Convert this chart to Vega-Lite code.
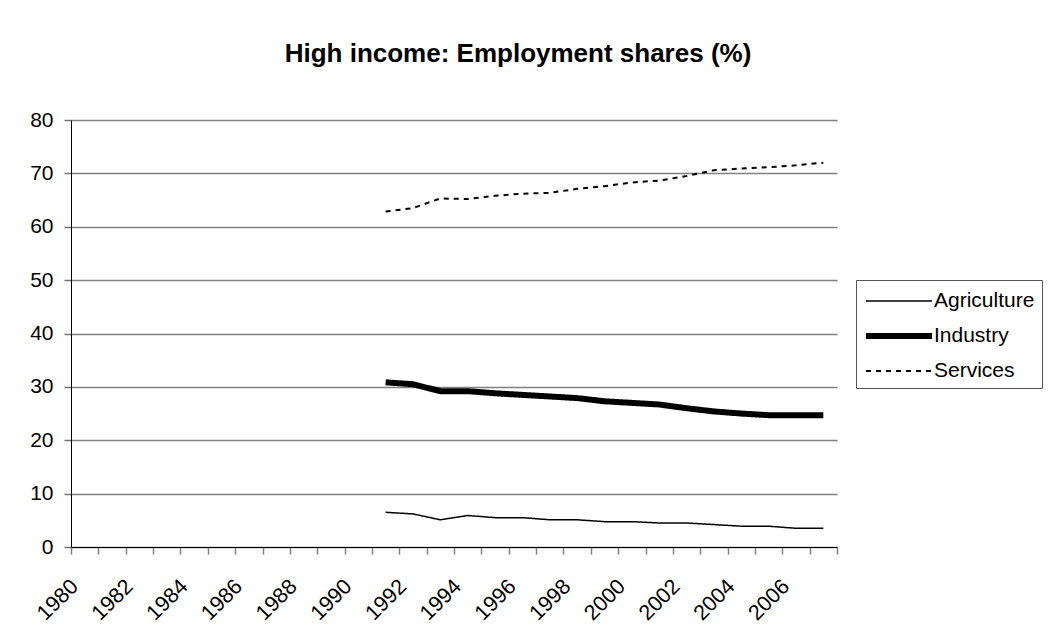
{
  "$schema": "https://vega.github.io/schema/vega-lite/v6.json",
  "width": 766,
  "height": 427,
  "autosize": "none",
  "padding": {"left": 71, "top": 120, "right": 212, "bottom": 93},
  "background": "white",
  "title": {
    "text": "High income: Employment shares (%)",
    "font": "Liberation Sans",
    "fontSize": 26,
    "fontWeight": "bold",
    "color": "black",
    "anchor": "middle",
    "frame": "group",
    "dx": 64,
    "offset": 42
  },
  "data": {
    "values": [
      {"year": 1991, "sector": "Agriculture", "share": 6.5},
      {"year": 1992, "sector": "Agriculture", "share": 6.2},
      {"year": 1993, "sector": "Agriculture", "share": 5.1},
      {"year": 1994, "sector": "Agriculture", "share": 5.9},
      {"year": 1995, "sector": "Agriculture", "share": 5.5},
      {"year": 1996, "sector": "Agriculture", "share": 5.5},
      {"year": 1997, "sector": "Agriculture", "share": 5.1},
      {"year": 1998, "sector": "Agriculture", "share": 5.1},
      {"year": 1999, "sector": "Agriculture", "share": 4.75},
      {"year": 2000, "sector": "Agriculture", "share": 4.75},
      {"year": 2001, "sector": "Agriculture", "share": 4.5},
      {"year": 2002, "sector": "Agriculture", "share": 4.5},
      {"year": 2003, "sector": "Agriculture", "share": 4.2},
      {"year": 2004, "sector": "Agriculture", "share": 3.9},
      {"year": 2005, "sector": "Agriculture", "share": 3.9},
      {"year": 2006, "sector": "Agriculture", "share": 3.5},
      {"year": 2007, "sector": "Agriculture", "share": 3.5},
      {"year": 1991, "sector": "Industry", "share": 30.85},
      {"year": 1992, "sector": "Industry", "share": 30.5},
      {"year": 1993, "sector": "Industry", "share": 29.2},
      {"year": 1994, "sector": "Industry", "share": 29.2},
      {"year": 1995, "sector": "Industry", "share": 28.8},
      {"year": 1996, "sector": "Industry", "share": 28.5},
      {"year": 1997, "sector": "Industry", "share": 28.2},
      {"year": 1998, "sector": "Industry", "share": 27.9},
      {"year": 1999, "sector": "Industry", "share": 27.3},
      {"year": 2000, "sector": "Industry", "share": 27.0},
      {"year": 2001, "sector": "Industry", "share": 26.7},
      {"year": 2002, "sector": "Industry", "share": 26.0},
      {"year": 2003, "sector": "Industry", "share": 25.4},
      {"year": 2004, "sector": "Industry", "share": 25.0},
      {"year": 2005, "sector": "Industry", "share": 24.7},
      {"year": 2006, "sector": "Industry", "share": 24.7},
      {"year": 2007, "sector": "Industry", "share": 24.7},
      {"year": 1991, "sector": "Services", "share": 62.85},
      {"year": 1992, "sector": "Services", "share": 63.5},
      {"year": 1993, "sector": "Services", "share": 65.3},
      {"year": 1994, "sector": "Services", "share": 65.2},
      {"year": 1995, "sector": "Services", "share": 65.8},
      {"year": 1996, "sector": "Services", "share": 66.2},
      {"year": 1997, "sector": "Services", "share": 66.35},
      {"year": 1998, "sector": "Services", "share": 67.1},
      {"year": 1999, "sector": "Services", "share": 67.6},
      {"year": 2000, "sector": "Services", "share": 68.3},
      {"year": 2001, "sector": "Services", "share": 68.65},
      {"year": 2002, "sector": "Services", "share": 69.5},
      {"year": 2003, "sector": "Services", "share": 70.6},
      {"year": 2004, "sector": "Services", "share": 70.9},
      {"year": 2005, "sector": "Services", "share": 71.15},
      {"year": 2006, "sector": "Services", "share": 71.5},
      {"year": 2007, "sector": "Services", "share": 72.0}
    ]
  },
  "mark": {"type": "line", "interpolate": "linear"},
  "encoding": {
    "x": {
      "field": "year",
      "type": "ordinal",
      "scale": {
        "type": "band",
        "paddingInner": 0,
        "paddingOuter": 0,
        "domain": [1980,1981,1982,1983,1984,1985,1986,1987,1988,1989,1990,1991,1992,1993,1994,1995,1996,1997,1998,1999,2000,2001,2002,2003,2004,2005,2006,2007]
      },
      "axis": {
        "title": null,
        "tickBand": "extent",
        "tickSize": 7,
        "tickColor": "#808080",
        "tickWidth": 1.5,
        "domainColor": "black",
        "domainWidth": 1,
        "labelAngle": -45,
        "labelAlign": "right",
        "labelBaseline": "middle",
        "labelFont": "Liberation Sans",
        "labelFontSize": 21.5,
        "labelColor": "black",
        "labelPadding": 29,
        "labelOffset": -10,
        "labelOverlap": false,
        "labelExpr": "datum.value % 2 == 0 ? datum.label : ''",
        "grid": false
      }
    },
    "y": {
      "field": "share",
      "type": "quantitative",
      "scale": {"domain": [0, 80], "nice": false, "zero": true},
      "axis": {
        "title": null,
        "values": [0,10,20,30,40,50,60,70,80],
        "tickSize": 7,
        "tickColor": "#707070",
        "tickWidth": 1.5,
        "domainColor": "black",
        "domainWidth": 1,
        "labelFont": "Liberation Sans",
        "labelFontSize": 21,
        "labelColor": "black",
        "labelPadding": 11,
        "grid": true,
        "gridColor": "#808080",
        "gridWidth": 1.5
      }
    },
    "color": {
      "field": "sector",
      "type": "nominal",
      "scale": {"domain": ["Agriculture", "Industry", "Services"], "range": ["black", "black", "black"]},
      "legend": {
        "title": null,
        "orient": "none",
        "legendX": 785,
        "legendY": 160,
        "symbolType": "M-1,0H4.08",
        "symbolSize": 676,
        "labelFont": "Liberation Sans",
        "labelFontSize": 21,
        "labelColor": "black",
        "labelOffset": 39,
        "rowPadding": 9,
        "padding": 7,
        "strokeColor": "#555555",
        "fillColor": "white"
      }
    },
    "strokeWidth": {
      "field": "sector",
      "type": "nominal",
      "scale": {"type": "ordinal", "domain": ["Agriculture", "Industry", "Services"], "range": [1.5, 6, 2]}
    },
    "strokeDash": {
      "field": "sector",
      "type": "nominal",
      "scale": {"domain": ["Agriculture", "Industry", "Services"], "range": [[1, 0], [1, 0], [5, 5]]}
    }
  },
  "config": {
    "view": {"stroke": null},
    "font": "Liberation Sans"
  }
}
